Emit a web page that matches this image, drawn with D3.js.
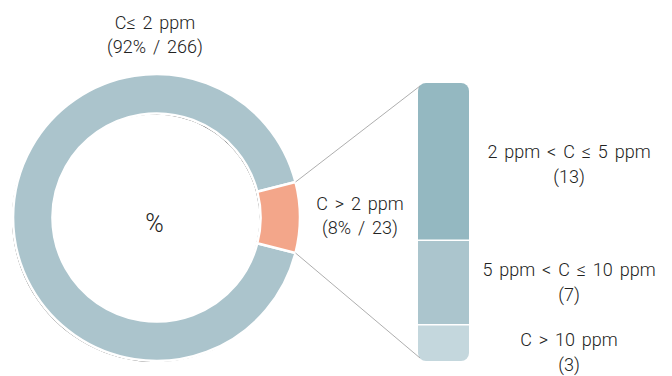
<!DOCTYPE html>
<html>
<head>
<meta charset="utf-8">
<script src="https://cdn.jsdelivr.net/npm/d3@7"></script>
<style>
  html, body { margin: 0; padding: 0; background: #fff; }
  svg text { font-family: Roboto, "Liberation Sans", sans-serif; font-weight: 300; fill: #222; word-spacing: 2.5px; }
</style>
</head>
<body>
<svg id="chart" width="672" height="376"></svg>
<script>
// Overall split of samples by concentration
const mainLabels = ["C≤ 2 ppm", "C > 2 ppm"];
const mainCounts = [266, 23];
const mainShares = [92, 8];
const mainColors = ["#abc4cc", "#f3a68a"];

// Breakdown of the C > 2 ppm group
const subLabels = ["2 ppm < C ≤ 5 ppm", "5 ppm < C ≤ 10 ppm", "C > 10 ppm"];
const subCounts = [13, 7, 3];
const subColors = ["#94b8c1", "#abc5cd", "#c4d7dd"];

const svg = d3.select("#chart");
const cx = 156.5, cy = 217.5, rOuter = 143.5, rInner = 104;

const defs = svg.append("defs");
const f = defs.append("filter").attr("id", "shade")
  .attr("x", "-10%").attr("y", "-10%").attr("width", "120%").attr("height", "120%");
f.append("feDropShadow").attr("dx", -1).attr("dy", 1).attr("stdDeviation", 0.4)
  .attr("flood-color", "#000").attr("flood-opacity", 0.85);

// Pie: the small slice is centred on the 3 o'clock direction
const total = d3.sum(mainCounts);
const smallAngle = 2 * Math.PI * mainCounts[1] / total;
const pie = d3.pie().sort(null)
  .startAngle(Math.PI / 2 + smallAngle / 2)
  .endAngle(Math.PI / 2 + smallAngle / 2 + 2 * Math.PI);
const arcs = pie(mainCounts);
const arc = d3.arc().innerRadius(rInner).outerRadius(rOuter);

const ring = svg.append("g").attr("transform", `translate(${cx},${cy})`);
ring.append("g").attr("filter", "url(#shade)")
  .selectAll("path").data(arcs).join("path")
  .attr("d", arc).attr("fill", (d, i) => mainColors[i]);
ring.selectAll("path.sep").data(arcs).join("path")
  .attr("class", "sep")
  .attr("d", arc).attr("fill", (d, i) => mainColors[i])
  .attr("stroke", "#fff").attr("stroke-width", 2.6);

ring.append("text").attr("text-anchor", "middle").attr("x", -2).attr("y", 14)
  .style("font-size", "25px").text("%");

// Stacked bar for the breakdown
const barX = 418, barW = 51, barTop = 83, barBottom = 361;
const y = d3.scaleLinear().domain([0, d3.sum(subCounts)]).range([barTop, barBottom]);
const stacked = [];
let acc = 0;
subCounts.forEach((v, i) => { stacked.push({ i, y0: acc, y1: acc + v }); acc += v; });

defs.append("clipPath").attr("id", "barClip")
  .append("rect").attr("x", barX).attr("y", barTop).attr("width", barW)
  .attr("height", barBottom - barTop).attr("rx", 8).attr("ry", 8);

svg.append("g").attr("clip-path", "url(#barClip)")
  .selectAll("rect").data(stacked).join("rect")
  .attr("x", barX).attr("width", barW)
  .attr("y", d => y(d.y0)).attr("height", d => y(d.y1) - y(d.y0))
  .attr("fill", d => subColors[d.i]);
svg.append("g").selectAll("line").data(stacked.slice(1)).join("line")
  .attr("x1", barX).attr("x2", barX + barW)
  .attr("y1", d => y(d.y0)).attr("y2", d => y(d.y0))
  .attr("stroke", "#fff").attr("stroke-width", 1.5);

// Connector lines from the small slice to the bar
const small = arcs[1];
const pt = a => [cx + rOuter * Math.sin(a), cy - rOuter * Math.cos(a)];
const pTop = pt(small.startAngle), pBot = pt(small.endAngle);
svg.append("line").attr("x1", pTop[0]).attr("y1", pTop[1])
  .attr("x2", barX + 2).attr("y2", barTop + 3)
  .attr("stroke", "#999").attr("stroke-width", 0.8);
svg.append("line").attr("x1", pBot[0]).attr("y1", pBot[1])
  .attr("x2", barX + 2).attr("y2", barBottom - 3)
  .attr("stroke", "#999").attr("stroke-width", 0.8);

// Labels
function label(x, yBase, lines, gap) {
  const t = svg.append("text").attr("text-anchor", "middle").style("font-size", "18px");
  lines.forEach((s, k) => t.append("tspan").attr("x", x).attr("y", yBase + k * gap).text(s));
}
label(155, 29, [mainLabels[0], `(${mainShares[0]}% / ${mainCounts[0]})`], 24);
label(360, 210, [mainLabels[1], `(${mainShares[1]}% / ${mainCounts[1]})`], 24);
const subY = [158, 276, 346];
subLabels.forEach((s, i) => label(569, subY[i], [s, `(${subCounts[i]})`], 25));
</script>
</body>
</html>
